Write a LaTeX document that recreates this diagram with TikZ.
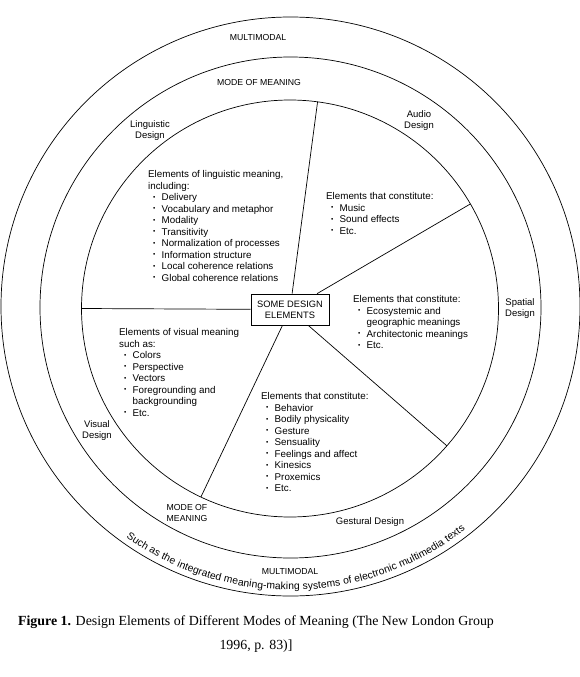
\documentclass[tikz,border=0pt]{standalone}
\usepackage{fontspec}
\setmainfont{Liberation Sans}
\newfontfamily\capfont{Liberation Serif}
\usetikzlibrary{decorations.text}
\newcommand\bodyfont{\fontsize{9.8}{11.5}\selectfont}
\newcommand\capsfont{\fontsize{8.7}{11}\selectfont}
\newcommand\lblfont{\fontsize{9.5}{11.2}\selectfont}
\newcommand\boxfont{\fontsize{9.3}{11}\selectfont}
\newcommand\curvefont{\fontsize{10.3}{12}\selectfont}
\newcommand\bl{\hspace*{5pt}\makebox[8.5pt][l]{\raisebox{0.3ex}{\fontsize{6.5}{6.5}\selectfont\textbullet}}}
\begin{document}
\begin{tikzpicture}[x=1pt,y=-1pt,
  ring/.style={draw, line width=0.7pt},
  spoke/.style={draw, line width=0.7pt},
  block/.style={anchor=north west, align=left, font=\bodyfont, inner sep=0pt},
  lbl/.style={align=center, font=\lblfont, inner sep=0pt},
  caps/.style={align=center, font=\capsfont, inner sep=0pt}]
\useasboundingbox (0,0) rectangle (580,677);
% rings
\draw[ring] (290,308.5) circle[radius=208.5];
\draw[ring] (290.5,307.5) circle[radius=250.5];
\draw[ring] (290.5,306.5) circle[radius=289.5];
% spoke ends on the inner ring
\path (290,308.5) ++(-82.4:208.5) coordinate (s1);
\path (290,308.5) ++(-30.1:208.5) coordinate (s2);
\path (290,308.5) ++(180:208.5) coordinate (s3);
\path (290,308.5) ++(115.3:208.5) coordinate (s4);
\path (290,308.5) ++(41.2:208.5) coordinate (s5);
% centre box
\node[draw, line width=0.7pt, fill=white, minimum width=78pt, minimum height=31pt,
  inner sep=2pt, align=center, font=\boxfont] (box) at (290,309.5) {SOME DESIGN\\ELEMENTS};
\draw[spoke] (box) -- (s1);
\draw[spoke] (box) -- (s2);
\draw[spoke] (box) -- (s3);
\draw[spoke] (box) -- (s4);
\draw[spoke] (box) -- (s5);
% ring labels
\node[caps] (mmtop) at (258,38) {MULTIMODAL};
\node[caps] (momtop) at (259,83) {MODE OF MEANING};
\node[caps] (mombot) at (187,512.5) {MODE OF\\MEANING};
\node[caps] (mmbot) at (290,571) {MULTIMODAL};
\node[lbl] (audiol) at (419,120.5) {Audio\\Design};
\node[lbl] (lingl) at (150,130.5) {Linguistic\\Design};
\node[lbl] (spatl) at (520,308.5) {Spatial\\Design};
\node[lbl] (visl) at (97,430.5) {Visual\\Design};
\node[lbl] (gestl) at (370,522) {Gestural Design};
% element blocks
\node[block] (ling) at (148,170.5) {Elements of linguistic meaning,\\including:\\
\bl Delivery\\\bl Vocabulary and metaphor\\\bl Modality\\\bl Transitivity\\
\bl Normalization of processes\\\bl Information structure\\
\bl Local coherence relations\\\bl Global coherence relations};
\node[block] (audio) at (326,192.5) {Elements that constitute:\\
\bl Music\\\bl Sound effects\\\bl Etc.};
\node[block] (spat) at (353,295.5) {Elements that constitute:\\
\bl Ecosystemic and\\\hspace*{13.5pt}geographic meanings\\
\bl Architectonic meanings\\\bl Etc.};
\node[block] (vis) at (119,328.5) {Elements of visual meaning\\such as:\\
\bl Colors\\\bl Perspective\\\bl Vectors\\\bl Foregrounding and\\
\hspace*{13.5pt}backgrounding\\\bl Etc.};
\node[block] (gest) at (261,392.5) {Elements that constitute:\\
\bl Behavior\\\bl Bodily physicality\\\bl Gesture\\\bl Sensuality\\
\bl Feelings and affect\\\bl Kinesics\\\bl Proxemics\\\bl Etc.};
% curved text
\path[decorate, decoration={text along path, text align={fit to path},
  text={|\curvefont|Such as the integrated meaning-making systems of electronic multimedia texts}}]
  (290.5,307) ++(125.5:283) arc[start angle=125.5, end angle=52, radius=283];
% caption
\node[font=\capfont\fontsize{13.9}{24}\selectfont, align=center, inner sep=0pt] (cap) at (256,634)
  {\textbf{Figure 1.} Design Elements of Different Modes of Meaning (The New London Group\\1996, p. 83)]};
\end{tikzpicture}
\end{document}
